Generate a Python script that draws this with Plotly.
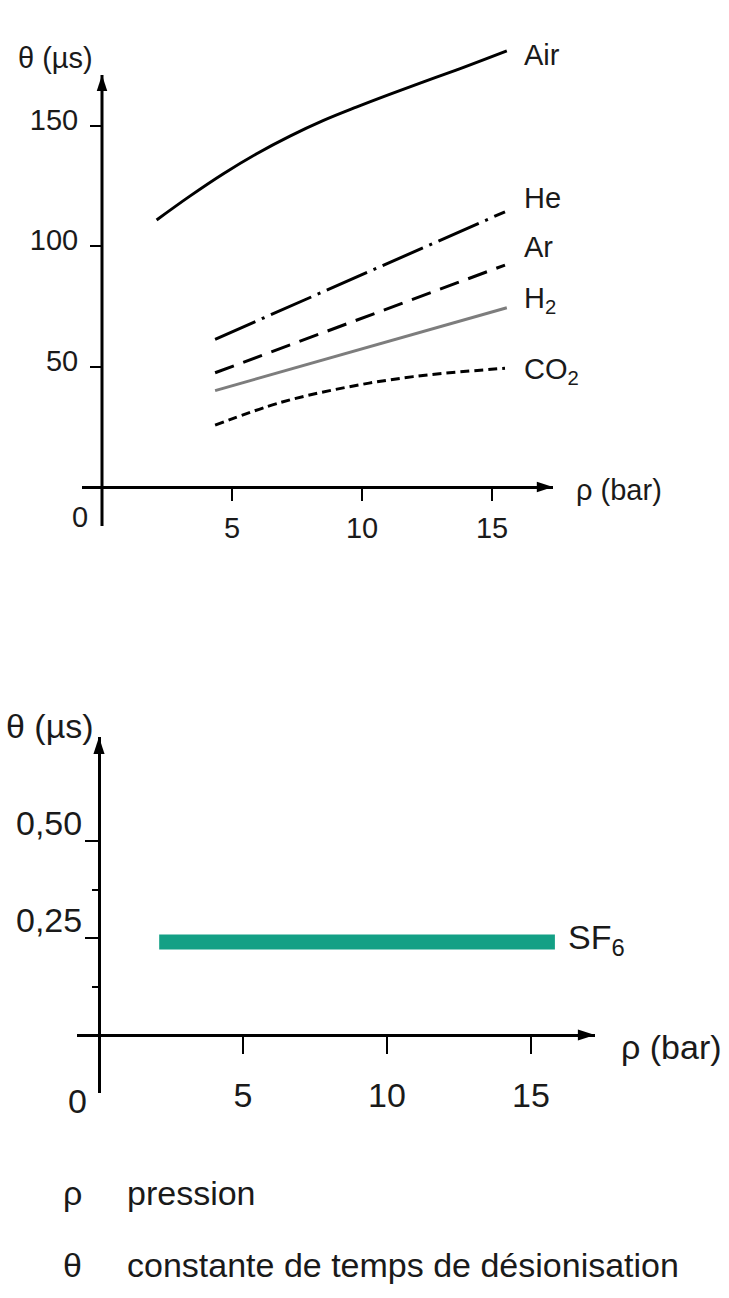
import plotly.graph_objects as go

W, H = 729, 1298

# ---------------- data ----------------
air_p = [2.10, 3.38, 4.67, 5.95, 7.23, 8.50, 9.78, 11.06, 12.34, 13.62, 15.57]
air_t = [110.8, 120.7, 130.0, 138.3, 145.6, 152.0, 157.6, 162.9, 168.0, 173.0, 181.0]
he_p = [4.35, 15.5]
he_t = [61.3, 114.2]
ar_p = [4.35, 15.5]
ar_t = [47.4, 92.1]
h2_p = [4.35, 15.57]
h2_t = [40.0, 74.4]
co2_p = [4.35, 6.85, 9.41, 11.97, 15.5]
co2_t = [25.7, 35.0, 41.4, 45.8, 49.3]
sf6_p = [2.09, 15.83]
sf6_t = [0.24, 0.24]

top_xticks = [5, 10, 15]
top_yticks = [50, 100, 150]
top_yaxis_top = 171          # where the drawn theta axis (arrow) ends
bot_xticks = [5, 10, 15]
bot_yticks = [0.25, 0.50]
bot_yticklabels = ["0,25", "0,50"]
bot_yminor = [0.125, 0.375]

gas_names = ["Air", "He", "Ar", "H<sub>2</sub>", "CO<sub>2</sub>"]
gas_label_t = [179.3, 119.9, 99.7, 77.5, 48.0]

# ---------------- geometry (pixels) ----------------
TOP_F = "Liberation Sans, Arial, sans-serif"
BOT_F = "Liberation Sans, Arial, sans-serif"
TOP_SIZE = 29
BOT_SIZE = 34
TXT = "#1a1a1a"

# top chart pixel mapping
t_x0, t_xs = 102, 26.0      # pixel of p=0, px per bar
t_y0, t_ys = 487, 2.41      # pixel of theta=0, px per us
t_left, t_right, t_top, t_bot = 82, 553, 38, 526
# bottom chart pixel mapping
b_x0, b_xs = 99, 28.8
b_y0, b_ys = 1035, 388.0
b_left, b_right, b_top, b_bot = 77, 595, 737, 1093


def px(x):
    return x / W


def py(y):
    return 1 - y / H


t_xr = [(t_left - t_x0) / t_xs, (t_right - t_x0) / t_xs]
t_yr = [(t_y0 - t_bot) / t_ys, (t_y0 - t_top) / t_ys]
b_xr = [(b_left - b_x0) / b_xs, (b_right - b_x0) / b_xs]
b_yr = [(b_y0 - b_bot) / b_ys, (b_y0 - b_top) / b_ys]

fig = go.Figure()

line_w = 3
fig.add_trace(go.Scatter(x=air_p, y=air_t, mode="lines",
                         line=dict(color="black", width=line_w, shape="spline", smoothing=1.0),
                         xaxis="x", yaxis="y", showlegend=False))
fig.add_trace(go.Scatter(x=he_p, y=he_t, mode="lines",
                         line=dict(color="black", width=line_w, dash="44px,7px,3px,7px"),
                         xaxis="x", yaxis="y", showlegend=False))
fig.add_trace(go.Scatter(x=ar_p, y=ar_t, mode="lines", line=dict(color="black", width=line_w, dash="20px,10px"),
                         xaxis="x", yaxis="y", showlegend=False))
fig.add_trace(go.Scatter(x=h2_p, y=h2_t, mode="lines", line=dict(color="#7d7d7d", width=line_w),
                         xaxis="x", yaxis="y", showlegend=False))
fig.add_trace(go.Scatter(x=co2_p, y=co2_t, mode="lines",
                         line=dict(color="black", width=line_w, dash="9px,5px", shape="spline"),
                         xaxis="x", yaxis="y", showlegend=False))
fig.add_trace(go.Scatter(x=sf6_p, y=sf6_t, mode="lines", line=dict(color="#13a085", width=15),
                         xaxis="x2", yaxis="y2", showlegend=False))

# arrow heads at the ends of the axes
fig.add_trace(go.Scatter(x=[t_xr[1], 0], y=[0, top_yaxis_top], mode="markers", cliponaxis=False,
                         marker=dict(symbol="arrow", size=17, angle=[90, 0], color="black"),
                         xaxis="x", yaxis="y", showlegend=False, hoverinfo="skip"))
fig.add_trace(go.Scatter(x=[b_xr[1], 0], y=[0, b_yr[1]], mode="markers", cliponaxis=False,
                         marker=dict(symbol="arrow", size=18, angle=[90, 0], color="black"),
                         xaxis="x2", yaxis="y2", showlegend=False, hoverinfo="skip"))

axis_common = dict(showgrid=False, zeroline=False, showline=True, linecolor="black", linewidth=3,
                   ticks="outside", tickcolor="black", tickwidth=2, fixedrange=True)

fig.update_layout(
    width=W, height=H, margin=dict(l=0, r=0, t=0, b=0),
    paper_bgcolor="white", plot_bgcolor="white",
    xaxis=dict(axis_common, domain=[px(t_left), px(t_right)], range=t_xr, anchor="free",
               position=py(t_y0), tickvals=top_xticks, ticklen=12,
               tickfont=dict(family=TOP_F, size=TOP_SIZE, color=TXT), ticklabelstandoff=2),
    yaxis=dict(axis_common, domain=[py(t_bot), py(t_top)], range=t_yr, anchor="free", showline=False,
               position=px(t_x0), tickvals=top_yticks, ticklen=12, ticklabelshift=-6,
               tickfont=dict(family=TOP_F, size=TOP_SIZE, color=TXT), ticklabelstandoff=6),
    xaxis2=dict(axis_common, domain=[px(b_left), px(b_right)], range=b_xr, anchor="free",
                position=py(b_y0), tickvals=bot_xticks, ticklen=17,
                tickfont=dict(family=BOT_F, size=BOT_SIZE, color=TXT), ticklabelstandoff=12),
    yaxis2=dict(axis_common, domain=[py(b_bot), py(b_top)], range=b_yr, anchor="free",
                position=px(b_x0), tickvals=bot_yticks, ticktext=bot_yticklabels, ticklen=13,
                ticklabelshift=-18, minor=dict(tickvals=bot_yminor, ticklen=6, tickwidth=2,
                                               ticks="outside", tickcolor="black"),
                tickfont=dict(family=BOT_F, size=BOT_SIZE, color=TXT), ticklabelstandoff=-4),
    shapes=[dict(type="line", xref="x", yref="y", x0=0, x1=0, y0=t_yr[0], y1=top_yaxis_top,
                 line=dict(color="black", width=3))],
)

ann = []
# gas labels (top chart)
for name, t in zip(gas_names, gas_label_t):
    ann.append(dict(x=16.14, y=t, xref="x", yref="y", text=name, showarrow=False, xanchor="left",
                    yanchor="middle", font=dict(family=TOP_F, size=TOP_SIZE, color=TXT)))
ann.append(dict(x=16.2, y=0.245, xref="x2", yref="y2", text="SF<sub>6</sub>", showarrow=False, xanchor="left",
                yanchor="middle", font=dict(family=BOT_F, size=BOT_SIZE, color=TXT)))


def ptext(x, y, text, font, size, xanchor="left"):
    ann.append(dict(x=px(x), y=py(y), xref="paper", yref="paper", text=text, showarrow=False,
                    xanchor=xanchor, yanchor="middle", font=dict(family=font, size=size, color=TXT)))


# axis titles and origin labels
ptext(16, 58, "θ (µs)", TOP_F, TOP_SIZE)
ptext(574, 490, "ρ (bar)", TOP_F, TOP_SIZE)
ptext(80, 517, "0", TOP_F, TOP_SIZE, "center")
ptext(4, 726, "θ (µs)", BOT_F, BOT_SIZE)
ptext(619, 1047, "ρ (bar)", BOT_F, BOT_SIZE)
ptext(77, 1101, "0", BOT_F, BOT_SIZE, "center")
# key
ptext(72, 1193, "ρ", BOT_F, BOT_SIZE, "center")
ptext(125, 1193, "pression", BOT_F, BOT_SIZE)
ptext(72, 1265, "θ", BOT_F, BOT_SIZE, "center")
ptext(125, 1265, "constante de temps de désionisation", BOT_F, BOT_SIZE)

fig.update_layout(annotations=ann)
fig.write_html("out.html", config={"displayModeBar": False},
               post_script="document.body.style.margin='0px';")
